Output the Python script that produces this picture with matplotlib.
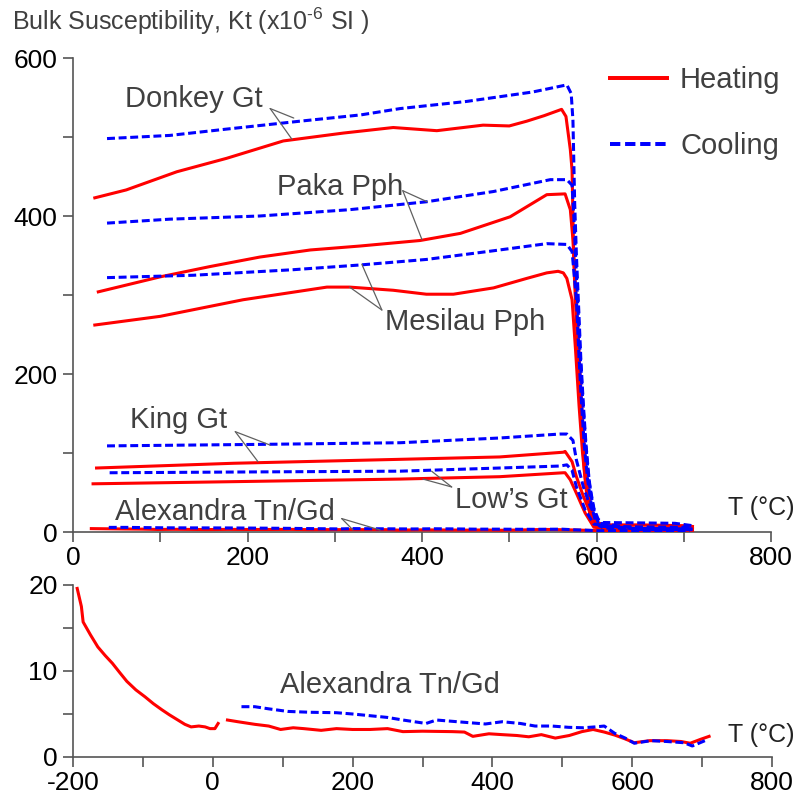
import matplotlib
matplotlib.use('Agg')
import matplotlib.pyplot as plt
from matplotlib.ticker import MultipleLocator

plt.rcParams['font.family'] = ['Liberation Sans', 'DejaVu Sans']
plt.rcParams['mathtext.fontset'] = 'custom'
plt.rcParams['mathtext.rm'] = 'Liberation Sans'
plt.rcParams['axes.unicode_minus'] = False

# --- data (T in degC, K in 1e-6 SI) ---
donkey_heat_t = [25, 61, 119, 176, 241, 310, 367, 417, 470, 500, 520, 540, 560, 565, 570, 572, 574, 576,
                 578, 580, 583, 586, 590, 595, 600, 610, 650, 700, 710]
donkey_heat_k = [423, 433, 456, 473, 495, 505, 512, 508, 515, 514, 520, 527, 535, 526, 484, 458, 340, 290,
                 240, 190, 130, 80, 40, 20, 12, 9, 9, 8, 7]
donkey_cool_t = [39, 111, 176, 260, 330, 375, 451, 527, 566, 571, 573, 575, 577, 579, 582, 585, 588, 592,
                 597, 602, 607, 650, 690, 710]
donkey_cool_k = [498, 502, 510, 520, 528, 536, 545, 557, 566, 555, 521, 416, 350, 298, 220, 160, 110, 60,
                 30, 16, 12, 11.5, 11, 8]

paka_heat_t = [29, 100, 157, 214, 272, 329, 398, 444, 501, 543, 564, 570, 573, 576, 579, 582, 585, 588,
               592, 597, 602, 650, 700, 710]
paka_heat_k = [304, 323, 336, 348, 357, 362, 369, 378, 399, 427, 428, 408, 370, 310, 250, 180, 120, 75,
               40, 15, 6, 5, 5, 4]
paka_cool_t = [39, 111, 214, 317, 405, 482, 547, 566, 572, 574, 576, 578, 581, 584, 587, 590, 594, 598,
               603, 608, 650, 700, 710]
paka_cool_k = [391, 396, 400, 408, 418, 431, 446, 446, 439, 400, 350, 300, 230, 170, 120, 80, 45, 22,
               10, 7, 6.5, 6, 5]

mesilau_heat_t = [25, 100, 195, 291, 317, 367, 405, 436, 482, 520, 543, 556, 562, 566, 572, 576, 580,
                  584, 588, 592, 597, 602, 650, 700, 710]
mesilau_heat_k = [262, 273, 294, 310, 310, 306, 301, 301, 309, 321, 328, 330, 328, 321, 294, 230, 160,
                  100, 55, 25, 10, 4, 3.5, 3, 3]
mesilau_cool_t = [39, 138, 252, 329, 405, 482, 543, 566, 572, 577, 580, 583, 586, 590, 594, 598, 603,
                  608, 650, 700, 710]
mesilau_cool_k = [322, 325, 332, 338, 345, 356, 365, 364, 355, 294, 220, 160, 110, 65, 35, 17, 8,
                  5, 4.5, 4, 4]

king_heat_t = [27, 184, 375, 489, 562, 564, 572, 577, 585, 593, 600, 650, 700, 710]
king_heat_k = [81, 87, 92, 95, 101, 102, 89, 70, 45, 24, 6, 3, 3, 3]
king_cool_t = [39, 222, 375, 489, 558, 566, 573, 577, 585, 593, 604, 650, 700, 710]
king_cool_k = [109, 111, 113, 119, 124, 124, 116, 91, 57, 32, 11, 4, 4, 4]

lows_heat_t = [23, 200, 375, 489, 562, 564, 570, 577, 587, 597, 650, 700, 710]
lows_heat_k = [61, 64, 67, 70, 75, 75, 66, 49, 24, 6, 2.5, 2.5, 2.5]
lows_cool_t = [42, 200, 375, 489, 558, 566, 572, 577, 587, 597, 650, 700, 710]
lows_cool_k = [75, 76, 77, 81, 83.5, 85, 78, 57, 28, 10, 3, 3, 3]

alex_low_t = [-194, -188, -185.5, -175, -164.5, -154, -143.7, -133, -123, -110, -97, -85, -73, -62,
              -50, -40, -31, -20, -11, -4, 3, 7.6]
alex_low_k = [19.6, 17.5, 15.7, 14.2, 12.8, 11.8, 10.9, 9.8, 8.8, 7.8, 7.0, 6.2, 5.5, 4.9,
              4.3, 3.8, 3.5, 3.6, 3.5, 3.3, 3.3, 3.9]
alex_heat_t = [21, 36, 60, 80, 97, 115, 130, 155, 177, 200, 225, 250, 272, 300, 343, 360, 372, 395, 414,
               435, 452, 470, 490, 510, 528, 544, 560, 575, 590, 603, 625, 650, 670, 683, 698, 710]
alex_heat_k = [4.3, 4.1, 3.8, 3.6, 3.2, 3.4, 3.3, 3.1, 3.3, 3.2, 3.2, 3.3, 2.95, 3.0, 2.95, 2.9, 2.4, 2.7, 2.6,
               2.5, 2.35, 2.6, 2.2, 2.5, 2.95, 3.2, 2.9, 2.55, 2.1, 1.66, 1.9, 1.9, 1.8, 1.6, 2.06, 2.4]
alex_cool_t = [41, 60, 80, 107, 140, 177, 200, 225, 250, 272, 305, 320, 350, 390, 414, 440, 461, 485,
               509, 530, 547, 560, 575, 590, 603, 627, 650, 674, 686, 707]
alex_cool_k = [5.85, 5.85, 5.6, 5.3, 5.2, 5.15, 5.0, 4.8, 4.6, 4.3, 3.9, 4.3, 4.1, 3.84, 4.1, 3.9, 3.6, 3.6,
               3.45, 3.4, 3.5, 3.6, 2.75, 2.2, 1.6, 1.9, 1.8, 1.66, 1.28, 2.0]

RED = '#ff0000'
BLUE = '#0000ff'
GREY = '#404040'
AXC = '#555555'
LW = 2.2
DASH = (2.6, 1.2)

fig = plt.figure(figsize=(8, 8.08), dpi=100)
ax1 = fig.add_axes([73 / 800, 1 - 532 / 808, 698 / 800, 474 / 808])
ax2 = fig.add_axes([73 / 800, 1 - 757 / 808, 699 / 800, 172 / 808])

heat_sets = [(donkey_heat_t, donkey_heat_k), (paka_heat_t, paka_heat_k), (mesilau_heat_t, mesilau_heat_k),
             (king_heat_t, king_heat_k), (lows_heat_t, lows_heat_k), (alex_heat_t, alex_heat_k)]
cool_sets = [(donkey_cool_t, donkey_cool_k), (paka_cool_t, paka_cool_k), (mesilau_cool_t, mesilau_cool_k),
             (king_cool_t, king_cool_k), (lows_cool_t, lows_cool_k), (alex_cool_t, alex_cool_k)]

for t, k in heat_sets:
    ax1.plot(t, k, color=RED, lw=LW, zorder=3)
for t, k in cool_sets:
    ax1.plot(t, k, color=BLUE, lw=LW, dashes=DASH, zorder=4)

ax2.plot(alex_low_t, alex_low_k, color=RED, lw=LW)
ax2.plot(alex_heat_t, alex_heat_k, color=RED, lw=LW)
ax2.plot(alex_cool_t, alex_cool_k, color=BLUE, lw=LW, dashes=DASH)

for ax in (ax1, ax2):
    for s in ('top', 'right'):
        ax.spines[s].set_visible(False)
    for s in ('left', 'bottom'):
        ax.spines[s].set_color(AXC)
        ax.spines[s].set_linewidth(1.2)
    ax.tick_params(which='both', direction='out', length=7, width=1.2, color=AXC,
                   labelsize=19, labelcolor='black')
    ax.tick_params(axis='y', pad=4)
    ax.tick_params(axis='x', pad=3)
    ax.xaxis.set_major_locator(MultipleLocator(200))
    ax.xaxis.set_minor_locator(MultipleLocator(100))

ax1.set_xlim(0, 800)
ax1.set_ylim(0, 600)
ax1.yaxis.set_major_locator(MultipleLocator(200))
ax1.yaxis.set_minor_locator(MultipleLocator(100))

ax2.set_xlim(-200, 800)
ax2.set_ylim(0, 20)
ax2.yaxis.set_major_locator(MultipleLocator(10))
ax2.yaxis.set_minor_locator(MultipleLocator(5))

# labels with leader lines
lead = dict(arrowstyle='-', color='#606060', lw=0.9, shrinkA=0, shrinkB=0)
labels = [
    ('Donkey Gt', (60, 548), (226, 536), [(253, 524), (251, 497)]),
    ('Paka Pph', (234, 437), (378, 432), [(406, 418), (400, 370)]),
    ('Mesilau Pph', (358, 266), (354, 281), [(331, 339), (317, 310)]),
    ('King Gt', (65, 142), (186, 127), [(226, 110), (212, 89)]),
    ('Low\u2019s Gt', (438, 40), (434, 57), [(401, 67), (411, 77)]),
    ('Alexandra Tn/Gd', (48, 25), (308, 17), [(321, 2.5), (352, 2.5)]),
]
for name, txt, start, ends in labels:
    ax1.text(txt[0], txt[1], name, fontsize=21, color=GREY, ha='left', va='center', zorder=6)
    for e in ends:
        ax1.annotate('', xy=e, xytext=start, arrowprops=lead, zorder=5)

ax2.text(96, 8.4, 'Alexandra Tn/Gd', fontsize=21, color=GREY, ha='left', va='center')

ax1.text(751, 30, 'T (\u00b0C)', fontsize=18, color='#222222', ha='left', va='center')
ax2.text(737, 2.6, 'T (\u00b0C)', fontsize=18, color='#222222', ha='left', va='center')

fig.text(12 / 800, 1 - 21 / 808, r'Bulk Susceptibility, Kt (x10$^{\text{-6}}$ SI )',
         fontsize=18, color=GREY, ha='left', va='center')

h1, = ax1.plot([], [], color=RED, lw=LW * 1.3, label='Heating')
h2, = ax1.plot([], [], color=BLUE, lw=LW * 1.3, dashes=DASH, label='Cooling')
fig.legend(handles=[h1, h2], loc='upper left', bbox_to_anchor=(610 / 800, 1 - 66 / 808),
           frameon=False, fontsize=21, handlelength=1.95, handletextpad=0.45,
           labelspacing=1.3, borderpad=0, borderaxespad=0, labelcolor=GREY)

fig.savefig('out.png', dpi=100)
